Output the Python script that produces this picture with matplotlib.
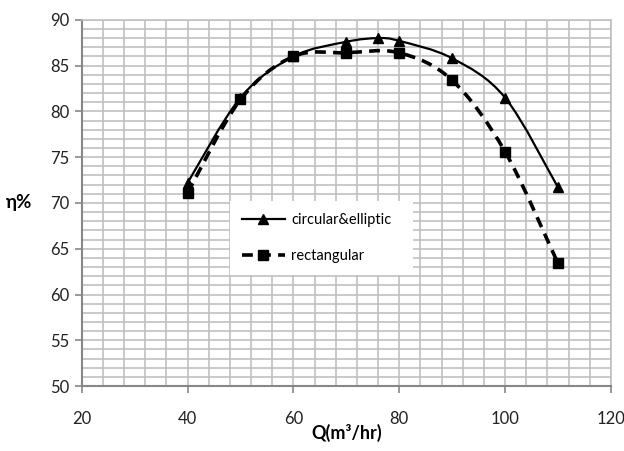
import numpy as np
import matplotlib.pyplot as plt
from matplotlib.path import Path
from matplotlib.patches import PathPatch
from matplotlib.lines import Line2D

# data
q_circ = [40, 50, 60, 70, 76, 80, 90, 100, 110]
eta_circ = [72.2, 81.5, 86.0, 87.6, 88.0, 87.7, 85.8, 81.5, 71.7]
q_rect = [40, 50, 60, 70, 80, 90, 100, 110]
eta_rect = [71.1, 81.3, 86.0, 86.4, 86.4, 83.4, 75.6, 63.4]
xticks = [20, 40, 60, 80, 100, 120]
yticks = [50, 55, 60, 65, 70, 75, 80, 85, 90]

plt.rcParams['font.family'] = ['Lato', 'DejaVu Sans']


def smooth_path(x, y):
    # excel style smoothed line (bezier through the points)
    p = np.column_stack([x, y]).astype(float)
    n = len(p)
    verts = [p[0]]
    codes = [Path.MOVETO]
    for i in range(n - 1):
        p0 = p[i - 1] if i > 0 else p[i]
        p1 = p[i]
        p2 = p[i + 1]
        p3 = p[i + 2] if i + 2 < n else p[i + 1]
        c1 = p1 + (p2 - p0) / 6.0
        c2 = p2 - (p3 - p1) / 6.0
        verts += [c1, c2, p2]
        codes += [Path.CURVE4] * 3
    return Path(verts, codes)


fig = plt.figure(figsize=(6.24, 4.51), dpi=100)
ax = fig.add_axes([0.131, 0.144, 0.848, 0.812])

grid_c = '#c0c0c0'
spine_c = '#878787'

ax.set_xlim(20, 120)
ax.set_ylim(50, 90)
ax.set_xticks(xticks)
ax.set_yticks(yticks)
ax.set_xticks(np.arange(20, 121, 4), minor=True)
ax.set_yticks(np.arange(50, 91, 1), minor=True)
ax.grid(True, which='both', color=grid_c, linewidth=1.2)
ax.tick_params(which='minor', length=0)
ax.tick_params(which='major', length=5, color=spine_c, width=1.2,
               labelsize=12, labelcolor='#222222')
ax.tick_params(axis='x', pad=13)
ax.tick_params(axis='y', pad=4)
ax.set_axisbelow(True)
for s in ['top', 'right']:
    ax.spines[s].set_color(grid_c)
    ax.spines[s].set_linewidth(1.2)
for s in ['left', 'bottom']:
    ax.spines[s].set_color(spine_c)
    ax.spines[s].set_linewidth(1.5)

ax.add_patch(PathPatch(smooth_path(q_circ, eta_circ), fill=False,
                       edgecolor='black', linewidth=1.6))
ax.add_patch(PathPatch(smooth_path(q_rect, eta_rect), fill=False,
                       edgecolor='black', linewidth=2.6,
                       linestyle=(0, (3.0, 2.0))))
ax.plot(q_circ, eta_circ, linestyle='none', marker='^', markersize=7,
        color='black')
ax.plot(q_rect, eta_rect, linestyle='none', marker='s', markersize=6.5,
        color='black')

h1 = Line2D([], [], color='black', linewidth=1.6, marker='^', markersize=7)
h2 = Line2D([], [], color='black', linewidth=2.6, linestyle=(0, (3.0, 2.0)),
            marker='s', markersize=6.5)
leg = ax.legend([h1, h2], ['circular&elliptic', 'rectangular'],
                loc='upper left', bbox_to_anchor=(0.28, 0.504, 0.346, 0.0),
                mode='expand', borderaxespad=0, fontsize=10.5,
                handlelength=3.0, labelspacing=1.5, borderpad=0.8,
                handletextpad=0.4, fancybox=False, framealpha=1)
leg.get_frame().set_edgecolor('none')
leg.get_frame().set_facecolor('white')

ax.set_xlabel('Q(m³/hr)', fontsize=13, fontweight='bold', labelpad=-2)
ax.set_ylabel('η%', fontsize=13.5, fontweight='bold', rotation=0,
              labelpad=22, va='center')

fig.savefig('out.png', dpi=100)
